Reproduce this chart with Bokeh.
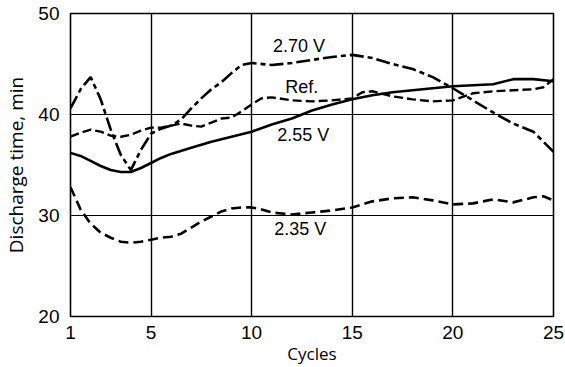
from bokeh.plotting import figure
from bokeh.models import Range1d, FixedTicker, ColumnDataSource
from bokeh.core.properties import value
from bokeh.embed import file_html
from bokeh.resources import INLINE

# ---- data ----
x_ticks = [1, 5, 10, 15, 20, 25]
y_ticks = [20, 30, 40, 50]

c270 = [1, 1.5, 2, 2.5, 3, 3.5, 4, 4.5, 5, 5.5, 6, 6.5, 7, 7.5, 8, 8.5, 9, 9.5, 10,
        11, 12, 13, 14, 15, 16, 17, 18, 19, 20, 21, 22, 23, 24, 25]
v270 = [40.6, 42.5, 43.7, 41.5, 38.5, 36.0, 34.5, 36.5, 38.1, 38.6, 38.9, 39.5, 40.6, 41.6,
        42.5, 43.2, 44.1, 44.9, 45.1, 44.9, 45.1, 45.4, 45.7, 45.9, 45.6, 45.0, 44.5, 43.7,
        42.6, 41.4, 40.2, 39.1, 38.3, 36.3]

cref = [1, 1.5, 2, 2.5, 3, 3.5, 4, 4.5, 5, 5.5, 6, 6.5, 7, 7.5, 8, 8.5, 9, 9.5, 10, 10.5,
        11, 12, 13, 14, 15, 15.5, 16, 17, 18, 19, 20, 21, 22, 23, 24, 24.5, 25]
vref = [37.8, 38.2, 38.5, 38.3, 37.9, 37.8, 38.0, 38.4, 38.7, 38.7, 38.9, 39.1, 38.9, 38.8,
        39.2, 39.6, 39.7, 40.3, 41.0, 41.6, 41.7, 41.4, 41.3, 41.4, 41.6, 42.2, 42.3, 41.8,
        41.5, 41.3, 41.4, 42.1, 42.3, 42.4, 42.5, 42.7, 43.5]

c255 = [1, 1.5, 2, 2.5, 3, 3.5, 4, 4.5, 5, 5.5, 6, 7, 8, 9, 10, 11, 12, 13, 14, 15, 16, 17,
        18, 19, 20, 21, 22, 23, 24, 25]
v255 = [36.2, 35.9, 35.4, 34.9, 34.5, 34.3, 34.3, 34.7, 35.2, 35.7, 36.1, 36.7, 37.3, 37.8,
        38.3, 39.0, 39.6, 40.4, 41.0, 41.5, 41.9, 42.2, 42.4, 42.6, 42.8, 42.9, 43.0, 43.5,
        43.5, 43.3]

c235 = [1, 1.5, 2, 2.5, 3, 3.5, 4, 4.5, 5, 5.5, 6, 6.5, 7, 7.5, 8, 8.5, 9, 9.5, 10, 10.5,
        11, 11.5, 12, 13, 14, 15, 16, 17, 18, 19, 20, 21, 22, 23, 24, 24.5, 25]
v235 = [32.8, 30.6, 29.2, 28.3, 27.8, 27.4, 27.3, 27.4, 27.6, 27.8, 27.9, 28.2, 28.8, 29.4,
        29.9, 30.4, 30.7, 30.8, 30.8, 30.6, 30.3, 30.2, 30.1, 30.3, 30.5, 30.8, 31.4, 31.7,
        31.8, 31.5, 31.1, 31.2, 31.6, 31.3, 31.8, 31.9, 31.5]

series_labels = ["2.70 V", "Ref.", "2.55 V", "2.35 V"]

# ---- figure ----
p = figure(width=565, height=367, output_backend="svg", toolbar_location=None,
           x_range=Range1d(1, 25), y_range=Range1d(20, 50),
           min_border_left=67, min_border_right=12, min_border_top=13, min_border_bottom=50)
p.background_fill_color = "white"
p.border_fill_color = "white"
p.outline_line_color = "black"
p.outline_line_width = 1.6

p.xaxis.ticker = FixedTicker(ticks=x_ticks)
p.yaxis.ticker = FixedTicker(ticks=y_ticks)
p.xgrid.ticker = FixedTicker(ticks=x_ticks)
p.ygrid.ticker = FixedTicker(ticks=y_ticks)
for g in (p.xgrid, p.ygrid):
    g.grid_line_color = "black"
    g.grid_line_alpha = 1.0
p.xgrid.grid_line_width = 1.4
p.ygrid.grid_line_width = 1.1

for ax in (p.xaxis, p.yaxis):
    ax.axis_line_color = None
    ax.major_tick_line_color = None
    ax.minor_tick_line_color = None
    ax.major_label_text_font = "Liberation Sans"
    ax.major_label_text_font_size = "19px"
    ax.major_label_text_color = "black"
    ax.axis_label_text_font = "Open Sans"
    ax.axis_label_text_font_style = "normal"
    ax.axis_label_text_color = "black"

p.xaxis.major_label_standoff = 3
p.yaxis.major_label_standoff = 5
p.xaxis.axis_label = "Cycles"
p.xaxis.axis_label_text_font_size = "17px"
p.xaxis.axis_label_standoff = 0
p.yaxis.axis_label = "Discharge time, min"
p.yaxis.axis_label_text_font_size = "19px"
p.yaxis.axis_label_standoff = 6

p.line(c270, v270, line_color="black", line_width=2.6, line_dash="14 4 5 4")
p.line(cref, vref, line_color="black", line_width=2.4, line_dash="9 4")
p.line(c255, v255, line_color="black", line_width=2.6)
p.line(c235, v235, line_color="black", line_width=2.6, line_dash="10 5")

# label anchors (data coordinates)
label_x = [11.06, 11.67, 11.27, 11.12]
label_y = [46.8, 42.75, 37.95, 28.7]
src = ColumnDataSource(dict(x=label_x, y=label_y, t=series_labels))
p.text(x="x", y="y", text="t", source=src, text_font=value("Liberation Sans"),
       text_font_size="18px", text_baseline="middle", text_align="left", text_color="black")

open("out.html", "w").write(file_html(p, INLINE))
